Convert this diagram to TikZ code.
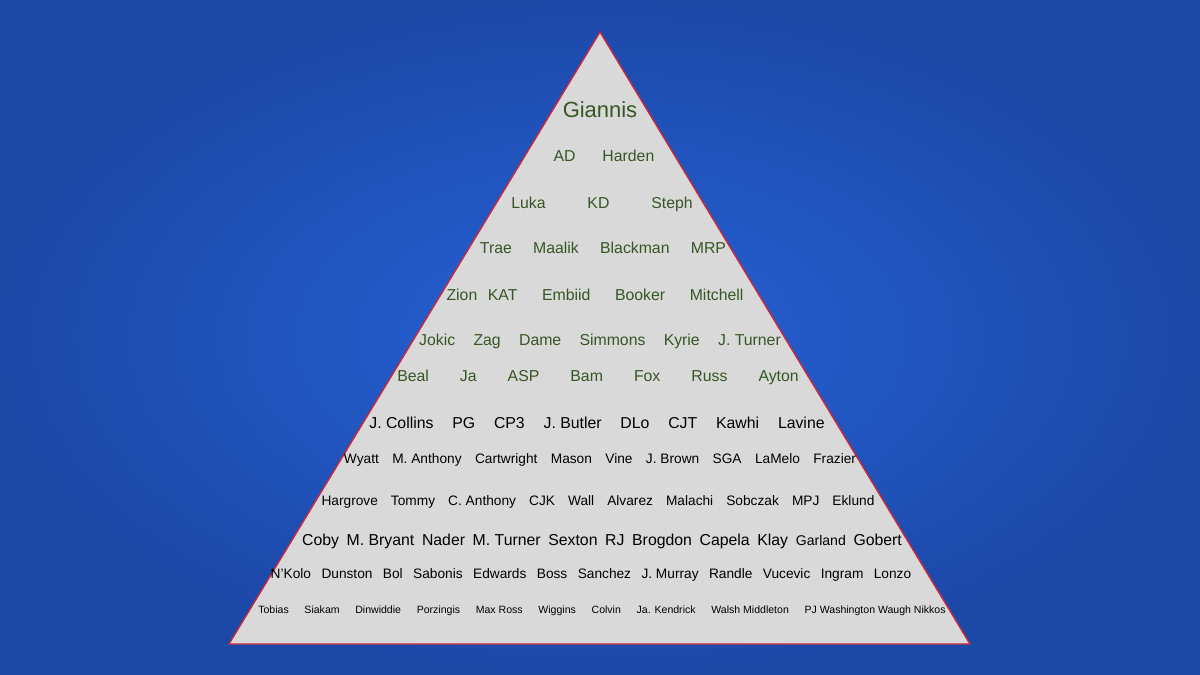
\documentclass[tikz,border=0pt]{standalone}
\usepackage{fontspec}
\setmainfont{Liberation Sans}
\usepackage{xcolor}
\usepackage{tikz}
\definecolor{tierblue}{RGB}{38, 98, 214}
\definecolor{tierdark}{RGB}{28, 72, 168}
\definecolor{tiergreen}{RGB}{55, 86, 35}
\definecolor{tiergray}{RGB}{217, 217, 217}
\definecolor{tierred}{RGB}{200, 40, 60}
\newcommand{\tierrow}[2]{\makebox[\dimexpr0.567pt*#1\relax]{#2}}

\begin{document}
\begin{tikzpicture}[x=0.02cm,y=-0.02cm]
% Background
\useasboundingbox (0,0) rectangle (1200,675);
\shade[inner color=tierblue, outer color=tierdark] (0,0) rectangle (1200,675);

% Pyramid
\filldraw[fill=tiergray, draw=tierred, line width=0.8pt] (600,32) -- (970,644) -- (229,644) -- cycle;

% Top tiers
\node[tiergreen, font=\fontsize{12.5}{14}\selectfont] (giannis) at (600,110) {Giannis};
\node[tiergreen, font=\fontsize{9}{11}\selectfont] (tier2) at (604,156) {\tierrow{101}{AD\hfill Harden}};
\node[tiergreen, font=\fontsize{9}{11}\selectfont] (tier3) at (602,204) {\tierrow{182}{Luka\hfill KD\hfill Steph}};
\node[tiergreen, font=\fontsize{9}{11}\selectfont] (tier4) at (603,248) {\tierrow{247}{Trae\hfill Maalik\hfill Blackman\hfill MRP}};
\node[tiergreen, font=\fontsize{9}{11}\selectfont] (tier5) at (595,295) {\tierrow{298}{Zion\hspace{6pt}KAT\hfill Embiid\hfill Booker\hfill Mitchell}};
\node[tiergreen, font=\fontsize{9}{11}\selectfont] (tier6) at (600,341) {\tierrow{363}{Jokic\hfill Zag\hfill Dame\hfill Simmons\hfill Kyrie\hfill J. Turner}};
\node[tiergreen, font=\fontsize{9}{11}\selectfont] (tier7) at (598,377) {\tierrow{403}{Beal\hfill Ja\hfill ASP\hfill Bam\hfill Fox\hfill Russ\hfill Ayton}};

% Lower tiers
\node[black, font=\fontsize{9}{11}\selectfont] (tier8) at (597,423) {\tierrow{457}{J. Collins\hfill PG\hfill CP3\hfill J. Butler\hfill DLo\hfill CJT\hfill Kawhi\hfill Lavine}};
\node[black, font=\fontsize{7.8}{9}\selectfont] (tier9) at (600,460) {\tierrow{514}{Wyatt\hfill M. Anthony\hfill Cartwright\hfill Mason\hfill Vine\hfill J. Brown\hfill SGA\hfill LaMelo\hfill Frazier}};
\node[black, font=\fontsize{7.8}{9}\selectfont] (tier10) at (598,502) {\tierrow{555}{Hargrove\hfill Tommy\hfill C. Anthony\hfill CJK\hfill Wall\hfill Alvarez\hfill Malachi\hfill Sobczak\hfill MPJ\hfill Eklund}};
\node[black, font=\fontsize{9}{11}\selectfont] (tier11) at (602,541) {\tierrow{602}{Coby\hfill M. Bryant\hfill Nader\hfill M. Turner\hfill Sexton\hfill RJ\hfill Brogdon\hfill Capela\hfill Klay\hfill {\fontsize{8}{9}\selectfont Garland}\hfill Gobert}};
\node[black, font=\fontsize{7.8}{9}\selectfont] (tier12) at (591,575) {\tierrow{643}{N'Kolo\hfill Dunston\hfill Bol\hfill Sabonis\hfill Edwards\hfill Boss\hfill Sanchez\hfill J. Murray\hfill Randle\hfill Vucevic\hfill Ingram\hfill Lonzo}};
\node[black, font=\fontsize{6}{7}\selectfont] (tier13) at (602,611) {\tierrow{690}{Tobias\hfill Siakam\hfill Dinwiddie\hfill Porzingis\hfill Max Ross\hfill Wiggins\hfill Colvin\hfill Ja. Kendrick\hfill Walsh Middleton\hfill PJ Washington Waugh Nikkos}};
\end{tikzpicture}
\end{document}
